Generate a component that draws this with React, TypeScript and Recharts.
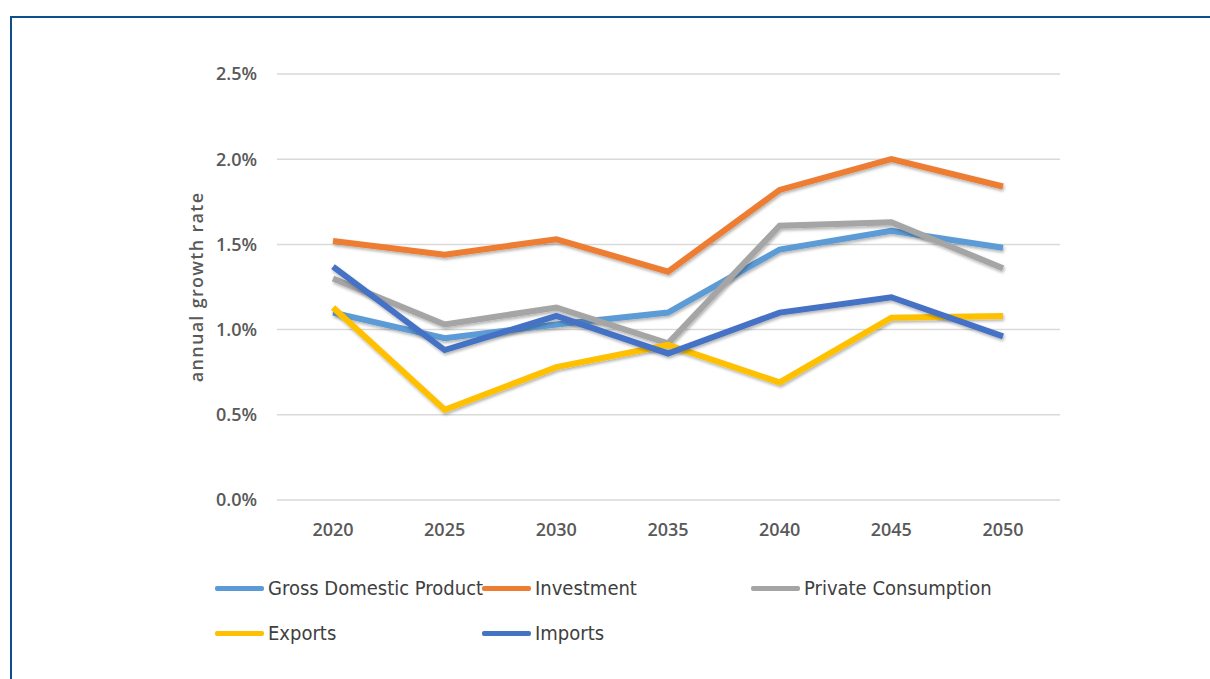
import React from 'react';
import { LineChart, Line, XAxis, YAxis, CartesianGrid, Label } from 'recharts';

const years = ['2020', '2025', '2030', '2035', '2040', '2045', '2050'];
const gdp = [1.1, 0.95, 1.03, 1.1, 1.47, 1.58, 1.48];
const investment = [1.52, 1.44, 1.53, 1.34, 1.82, 2.0, 1.84];
const privateConsumption = [1.3, 1.03, 1.13, 0.92, 1.61, 1.63, 1.36];
const exportsRate = [1.13, 0.53, 0.78, 0.91, 0.69, 1.07, 1.08];
const importsRate = [1.37, 0.88, 1.08, 0.86, 1.1, 1.19, 0.96];
const yTicks = [0, 0.5, 1.0, 1.5, 2.0, 2.5];

const series = [
  { key: 'gdp', name: 'Gross Domestic Product', color: '#5b9bd5', values: gdp },
  { key: 'investment', name: 'Investment', color: '#ed7d31', values: investment },
  { key: 'pc', name: 'Private Consumption', color: '#a5a5a5', values: privateConsumption },
  { key: 'exports', name: 'Exports', color: '#ffc000', values: exportsRate },
  { key: 'imports', name: 'Imports', color: '#4472c4', values: importsRate },
];

const data = years.map((year, i) => {
  const row: Record<string, string | number> = { year };
  series.forEach(s => { row[s.key] = s.values[i]; });
  return row;
});

const tickFont = { fontFamily: "'Open Sans', sans-serif", fontSize: 18, fontWeight: 600, fill: '#595959' };
const legendFont = "'DejaVu Sans Condensed', 'Liberation Sans Narrow', sans-serif";

// legend slots as in the original (3 columns, 2 rows)
const legendPos = [
  { left: 215, top: 588 },
  { left: 482, top: 588 },
  { left: 751, top: 588 },
  { left: 215, top: 633 },
  { left: 482, top: 633 },
];

const AxisTitle = (props: any) => {
  const { viewBox } = props;
  const cx = viewBox.x - 1;
  const cy = viewBox.y + viewBox.height / 2;
  return (
    <text
      x={cx}
      y={cy}
      transform={`rotate(-90, ${cx}, ${cy})`}
      textAnchor="middle"
      dominantBaseline="central"
      style={{ fontFamily: "'Open Sans', sans-serif", fontSize: 18, fontWeight: 600, letterSpacing: 1.3, fill: '#595959' }}
    >
      annual growth rate
    </text>
  );
};

export default function App() {
  return (
    <div style={{ position: 'absolute', left: 0, top: 0, width: 1210, height: 679, background: '#fff', overflow: 'hidden' }}>
      <div style={{ position: 'absolute', left: 10, top: 16, right: -10, bottom: -10, borderTop: '2px solid #0d4f8d', borderLeft: '2px solid #0d4f8d' }} />
      <div style={{ position: 'absolute', left: 0, top: 0 }}>
        <LineChart width={1210} height={679} data={data} margin={{ top: 74, right: 150, bottom: 139, left: 197 }}>
          <defs>
            <filter id="shadow" x="-5%" y="-5%" width="110%" height="120%">
              <feDropShadow dx="1" dy="2" stdDeviation="1.5" floodColor="#000" floodOpacity="0.3" />
            </filter>
          </defs>
          <CartesianGrid vertical={false} stroke="#d9d9d9" strokeWidth={1.5} />
          <XAxis
            dataKey="year"
            height={40}
            padding={{ left: 56, right: 57 }}
            axisLine={false}
            tickLine={false}
            tickSize={0}
            tickMargin={23}
            tick={tickFont}
          />
          <YAxis
            width={80}
            domain={[0, 2.5]}
            ticks={yTicks}
            tickFormatter={(v: number) => `${v.toFixed(1)}%`}
            axisLine={false}
            tickLine={false}
            tickSize={0}
            tickMargin={20}
            tick={tickFont}
          >
            <Label content={<AxisTitle />} />
          </YAxis>
          {series.map(s => (
            <Line
              key={s.key}
              dataKey={s.key}
              name={s.name}
              stroke={s.color}
              strokeWidth={6}
              dot={false}
              activeDot={false}
              filter="url(#shadow)"
              isAnimationActive={false}
            />
          ))}
        </LineChart>
      </div>
      {series.map((s, i) => (
        <div
          key={s.key}
          style={{ position: 'absolute', left: legendPos[i].left, top: legendPos[i].top - 14, height: 28, display: 'flex', alignItems: 'center', whiteSpace: 'nowrap' }}
        >
          <div style={{ width: 49, height: 5, background: s.color, borderRadius: 2, marginRight: 4 }} />
          <span style={{ fontFamily: legendFont, fontSize: 20, color: '#404040' }}>{s.name}</span>
        </div>
      ))}
    </div>
  );
}
